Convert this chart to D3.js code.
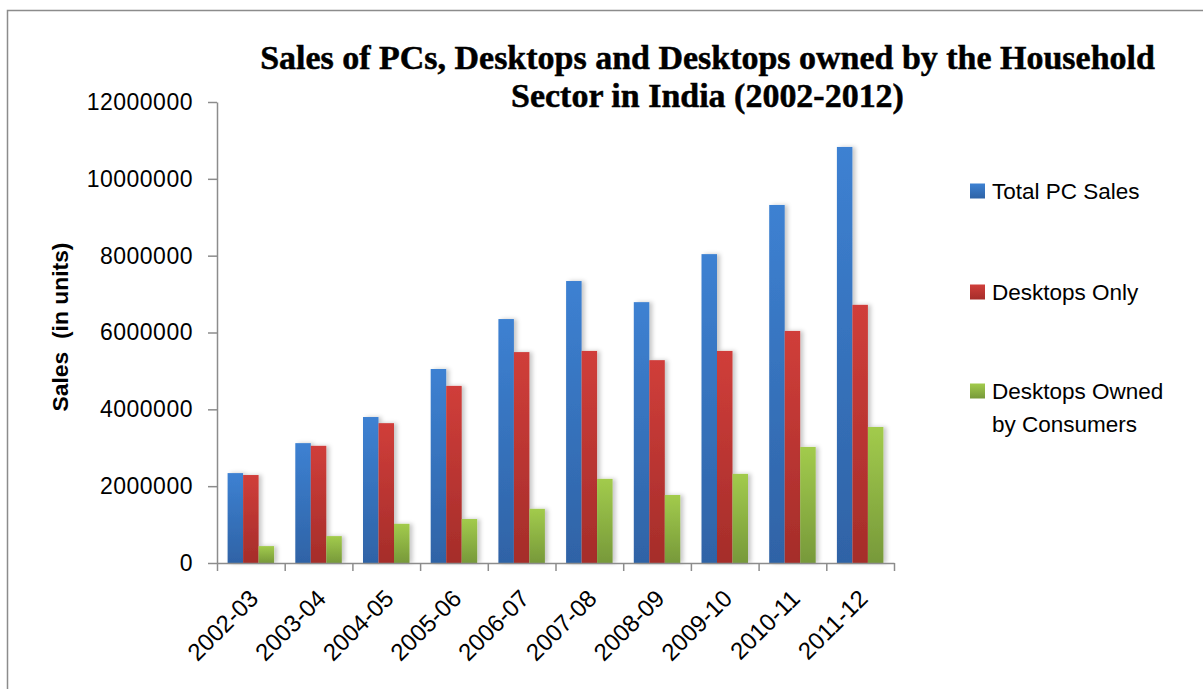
<!DOCTYPE html>
<html>
<head>
<meta charset="utf-8">
<script src="https://cdn.jsdelivr.net/npm/d3@7"></script>
<style>
  html, body { margin: 0; padding: 0; background: #fff; }
  svg { display: block; }
  text { font-family: "Liberation Sans", Arial, sans-serif; fill: #000; }
</style>
</head>
<body>
<svg id="chart" width="1203" height="689"></svg>
<script>
// Fiscal years and unit sales per series
const years = ["2002-03", "2003-04", "2004-05", "2005-06", "2006-07",
               "2007-08", "2008-09", "2009-10", "2010-11", "2011-12"];
const seriesNames = ["Total PC Sales", "Desktops Only", "Desktops Owned by Consumers"];
const totalPC   = [2340000, 3120000, 3800000, 5050000, 6350000, 7340000, 6790000, 8040000, 9320000, 10830000];
const desktops  = [2290000, 3050000, 3640000, 4610000, 5490000, 5520000, 5280000, 5520000, 6040000, 6720000];
const consumers = [ 440000,  700000, 1020000, 1145000, 1410000, 2190000, 1770000, 2320000, 3020000, 3540000];
const yTicks = [0, 2000000, 4000000, 6000000, 8000000, 10000000, 12000000];

const seriesValues = [totalPC, desktops, consumers];
const colors = [
  { top: "#3d81d2", bottom: "#2f63a6" },
  { top: "#d03e3a", bottom: "#a52d2a" },
  { top: "#a2cb4c", bottom: "#77993a" }
];

const svg = d3.select("#chart");
const defs = svg.append("defs");

colors.forEach((c, i) => {
  const g = defs.append("linearGradient")
    .attr("id", "grad" + i).attr("x1", 0).attr("y1", 0).attr("x2", 0).attr("y2", 1);
  g.append("stop").attr("offset", "0%").attr("stop-color", c.top);
  g.append("stop").attr("offset", "100%").attr("stop-color", c.bottom);
});

const shadow = defs.append("filter").attr("id", "shadow")
  .attr("x", "-20%").attr("y", "-5%").attr("width", "160%").attr("height", "110%");
shadow.append("feDropShadow").attr("dx", 3).attr("dy", 0).attr("stdDeviation", 2)
  .attr("flood-color", "#000").attr("flood-opacity", 0.22);

// Outer chart frame
svg.append("rect").attr("x", 7.5).attr("y", 10.5).attr("width", 1230).attr("height", 720)
  .attr("fill", "none").attr("stroke", "#8c8c8c").attr("stroke-width", 1.5);

const plot = { left: 217, right: 894, top: 102, bottom: 563 };

const x = d3.scaleBand().domain(years).range([plot.left, plot.right]).padding(0);
const xs = d3.scaleBand().domain(d3.range(seriesNames.length))
  .range([0, x.bandwidth()]).paddingInner(0).paddingOuter(0.684);
const y = d3.scaleLinear().domain([0, 12000000]).range([plot.bottom, plot.top]);

// Bars
seriesValues.forEach((vals, si) => {
  svg.append("g").attr("filter", "url(#shadow)")
    .selectAll("rect").data(vals).join("rect")
    .attr("x", (d, i) => x(years[i]) + xs(si))
    .attr("width", xs.bandwidth())
    .attr("y", d => y(d))
    .attr("height", d => y(0) - y(d))
    .attr("fill", `url(#grad${si})`);
});

// Y axis
const yAxis = svg.append("g").attr("transform", `translate(${plot.left},0)`)
  .call(d3.axisLeft(y).tickValues(yTicks).tickFormat(d3.format("d")).tickSize(9).tickSizeOuter(0).tickPadding(15));
yAxis.selectAll("path, line").attr("stroke", "#8c8c8c").attr("stroke-width", 1.5);
yAxis.selectAll("text").style("font-size", "23px").style("letter-spacing", "0.5px")
  .style("font-family", "Liberation Sans, Arial, sans-serif").attr("fill", "#000");

// X axis: ticks sit on category boundaries
const xb = d3.scaleLinear().domain([0, years.length]).range([plot.left, plot.right]);
const xAxis = svg.append("g").attr("transform", `translate(0,${plot.bottom})`)
  .call(d3.axisBottom(xb).tickValues(d3.range(years.length + 1)).tickFormat("").tickSize(8).tickSizeOuter(0));
xAxis.selectAll("path, line").attr("stroke", "#8c8c8c").attr("stroke-width", 1.5);

svg.append("g").selectAll("text").data(years).join("text")
  .attr("transform", d => `translate(${x(d) + x.bandwidth() / 2 + 3},${plot.bottom + 31}) rotate(-45)`)
  .attr("text-anchor", "end").attr("dy", "0.35em")
  .style("font-size", "24px")
  .text(d => d);

// Y axis title, fitted to its span
const yTitle = svg.append("text")
  .attr("transform", `translate(68,327) rotate(-90)`)
  .attr("text-anchor", "middle")
  .style("font-size", "20px").style("font-weight", "bold")
  .style("white-space", "pre")
  .text("Sales  (in units)");
{
  const len = yTitle.node().getComputedTextLength();
  yTitle.style("font-size", (20 * 169 / len) + "px");
}

// Chart title, fitted to its line widths
const titleLines = [
  { text: "Sales of PCs, Desktops and Desktops owned by the Household", y: 69, w: 895 },
  { text: "Sector in India (2002-2012)", y: 107, w: null }
];
const titleG = svg.append("g");
let titleSize = 28;
titleLines.forEach((l, i) => {
  const t = titleG.append("text")
    .attr("x", 707.5).attr("y", l.y).attr("text-anchor", "middle")
    .style("font-family", "'Liberation Serif', 'DejaVu Serif', serif")
    .style("font-weight", "bold").style("font-size", titleSize + "px")
    .attr("stroke", "#000").attr("stroke-width", 0.5)
    .text(l.text);
  if (l.w) {
    const len = t.node().getComputedTextLength();
    titleSize = titleSize * l.w / len;
  }
  t.style("font-size", titleSize + "px");
});

// Legend
const legendRows = [
  { lines: ["Total PC Sales"], y: 191 },
  { lines: ["Desktops Only"], y: 292 },
  { lines: ["Desktops Owned", "by Consumers"], y: 391 }
];
const legend = svg.append("g");
legendRows.forEach((r, i) => {
  legend.append("rect").attr("x", 970).attr("y", r.y - 7.5).attr("width", 15).attr("height", 15)
    .attr("fill", `url(#grad${i})`);
  r.lines.forEach((ln, j) => {
    legend.append("text").attr("x", 992).attr("y", r.y + j * 33).attr("dy", "0.36em")
      .style("font-size", "22.5px").text(ln);
  });
});
</script>
</body>
</html>
